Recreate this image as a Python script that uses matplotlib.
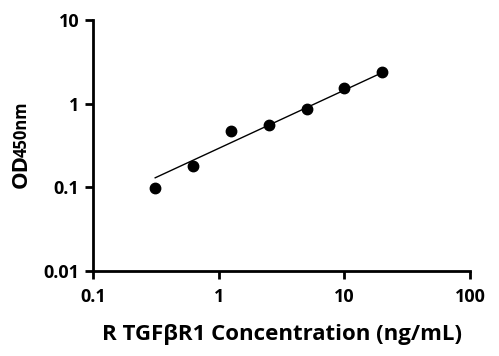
import numpy as np
import matplotlib
matplotlib.use("Agg")
import matplotlib.pyplot as plt

plt.rcParams['font.family'] = ['Open Sans', 'DejaVu Sans']
plt.rcParams['font.weight'] = 'bold'

conc = [0.3125, 0.625, 1.25, 2.5, 5, 10, 20]
od = [0.098, 0.18, 0.475, 0.55, 0.86, 1.55, 2.38]
fit_x = [0.3125, 20]
fit_y = [0.13, 2.35]

x_ticks = [0.1, 1, 10, 100]
x_ticklabels = ['0.1', '1', '10', '100']
y_ticks = [0.01, 0.1, 1, 10]
y_ticklabels = ['0.01', '0.1', '1', '10']

fig = plt.figure(figsize=(4.99, 3.56), dpi=100)
ax = fig.add_axes([93/499, 1 - 271/356, (470-93)/499, (271-20)/356])

ax.plot(fit_x, fit_y, color='black', lw=1.0)
ax.plot(conc, od, 'o', color='black', ms=7.5)

ax.set_xscale('log')
ax.set_yscale('log')
ax.set_xlim(0.1, 100)
ax.set_ylim(0.01, 10)
ax.set_xticks(x_ticks)
ax.set_xticklabels(x_ticklabels)
ax.set_yticks(y_ticks)
ax.set_yticklabels(y_ticklabels)
ax.minorticks_off()

for s in ['top', 'right']:
    ax.spines[s].set_visible(False)
for s in ['left', 'bottom']:
    ax.spines[s].set_linewidth(2)
ax.tick_params(width=2, length=6, labelsize=13)
ax.tick_params(axis='x', pad=6)
ax.tick_params(axis='y', pad=4)
for lbl in ax.get_xticklabels() + ax.get_yticklabels():
    lbl.set_fontweight('bold')

ax.set_xlabel('R TGF\u03b2R1 Concentration (ng/mL)', fontsize=16, fontweight='bold', labelpad=13)

fig.text(21/499, 1 - 188/356, 'OD', rotation=90, fontsize=16, fontweight='bold',
         ha='center', va='bottom')
fig.text(22/499, 1 - 157/356, '450nm', rotation=90, fontsize=12, fontweight='bold',
         ha='center', va='bottom')

fig.savefig('out.png', dpi=100)
